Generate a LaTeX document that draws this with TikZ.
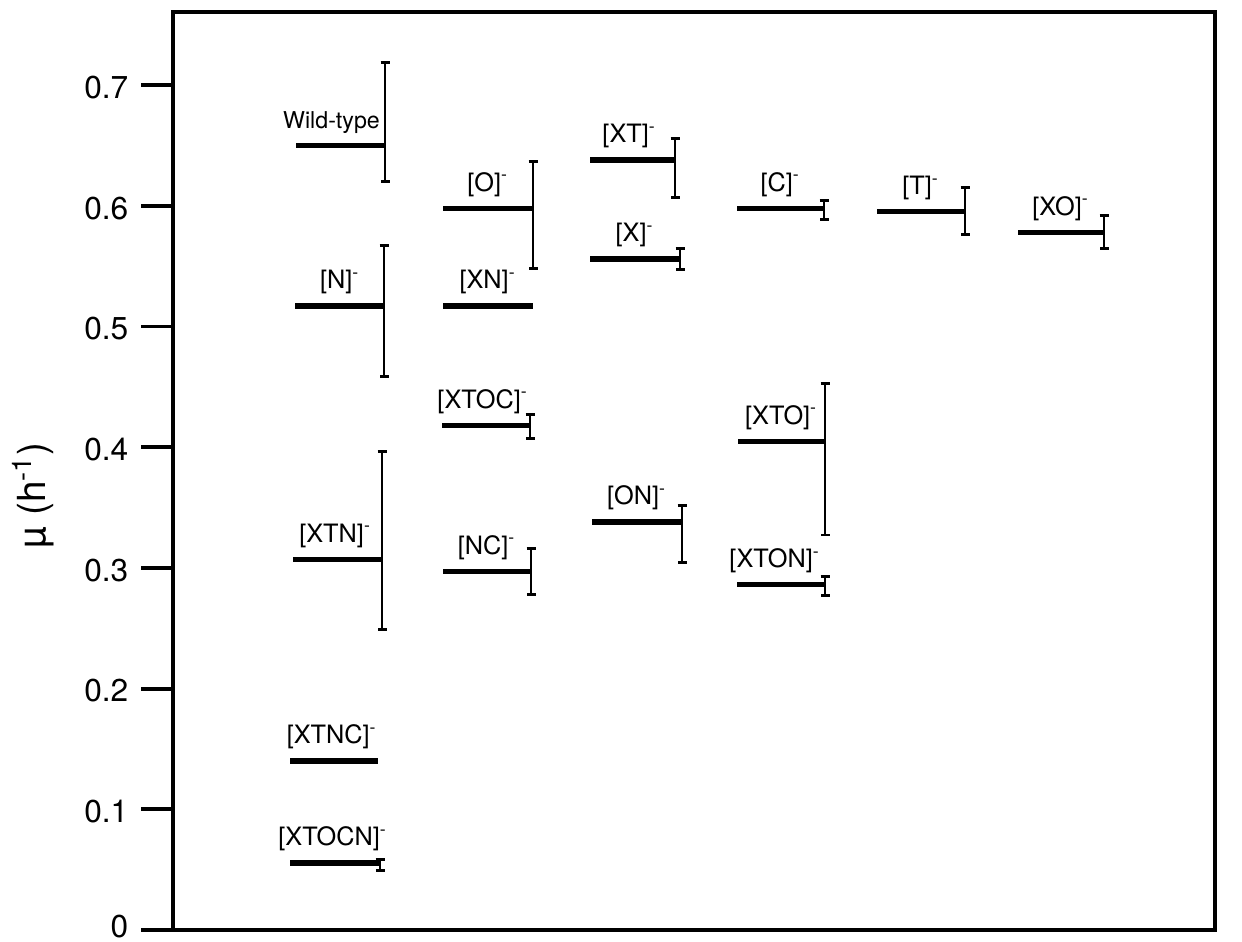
\documentclass[tikz,border=0pt]{standalone}
\usepackage{fontspec}
\setmainfont{TeX Gyre Heros}
\usepackage{tikz}
\usetikzlibrary{arrows.meta,positioning}

\begin{document}
\begin{tikzpicture}[x=0.1mm,y=120.7mm,line join=miter,
	frame/.style={line width=1.1pt},
	mean/.style={line width=1.5pt},
	errbar/.style={line width=0.85pt,{Bar[width=0.9mm,line width=0.85pt]}-{Bar[width=0.9mm,line width=0.85pt]}},
	tag/.style={font=\fontsize{7.2}{8}\selectfont,inner sep=0pt},
	ticklab/.style={font=\fontsize{9}{10}\selectfont,anchor=east,inner sep=0pt}]
	\useasboundingbox (0,-0.00994) rectangle (1242,0.7705);

	% axes and frame
	\coordinate (o0) at (173,0);
	\coordinate (o1) at (1215,0);
	\coordinate (o2) at (1215,0.7606);
	\coordinate (o3) at (173,0.7606);
	\draw[frame] (141,0) -- (o1) -- (o2) -- (o3) -- (o0);
	\foreach \v in {0.1,0.2,0.3,0.4,0.5,0.6,0.7}
		\draw[frame] (141,\v) -- (173,\v);
	\foreach \v/\dy in {0/0.0025,0.1/-0.002,0.2/-0.002,0.3/-0.002,0.4/-0.002,0.5/-0.002,0.6/-0.002,0.7/-0.002}
		\node[ticklab] (tick\v) at (129,\v+\dy) {\v};
	\node[rotate=90,font=\fontsize{11}{13}\selectfont] (ylab) at (33,0.360) {µ (h\textsuperscript{-1})};

	% mean values
	\foreach \nm/\xl/\xr/\v/\dx/\txt in {
		wt/296/385/0.650/-9/{\fontsize{6.6}{7}\selectfont Wild-type},
		n/295/385/0.517/0/[N]\textsuperscript{-},
		xtn/293/382/0.307/-2/[XTN]\textsuperscript{-},
		xtnc/290/378/0.140/-2/[XTNC]\textsuperscript{-},
		xtocn/290/380/0.0555/-2/[XTOCN]\textsuperscript{-},
		o/443/533/0.598/0/[O]\textsuperscript{-},
		xn/443/533/0.517/0/[XN]\textsuperscript{-},
		xtoc/442/530/0.418/-3/[XTOC]\textsuperscript{-},
		nc/443/531/0.297/0/[NC]\textsuperscript{-},
		xt/590/675/0.638/-3/[XT]\textsuperscript{-},
		x/590/680/0.556/0/[X]\textsuperscript{-},
		on/592/682/0.338/0/[ON]\textsuperscript{-},
		c/737/824/0.598/0/[C]\textsuperscript{-},
		xto/738/825/0.405/0/[XTO]\textsuperscript{-},
		xton/737/825/0.286/-6/[XTON]\textsuperscript{-},
		t/877/965/0.595/0/[T]\textsuperscript{-},
		xo/1018/1104/0.578/0/[XO]\textsuperscript{-}}
	{
		\coordinate (\nm-l) at (\xl,\v);
		\coordinate (\nm-r) at (\xr,\v);
		\coordinate (\nm) at ({(\xl+\xr)/2+\dx},\v);
		\draw[mean] (\nm-l) -- (\nm-r);
		\node[tag,above=1.1mm of \nm] (\nm-tag) {\txt};
	}

	% error bars
	\foreach \nm/\xr/\lo/\hi in {
		wt/385/0.619/0.720,
		n/384/0.457/0.568,
		xtn/382/0.248/0.398,
		xtocn/380/0.048/0.0597,
		o/533/0.547/0.638,
		xtoc/530/0.406/0.428,
		nc/531/0.277/0.317,
		xt/675/0.606/0.657,
		x/680/0.546/0.566,
		on/682/0.303/0.353,
		c/824/0.587/0.606,
		xto/825/0.326/0.454,
		xton/825/0.276/0.294,
		t/965/0.575/0.616,
		xo/1104/0.563/0.593}
	{
		\coordinate (\nm-lo) at (\xr,\lo);
		\coordinate (\nm-hi) at (\xr,\hi);
		\draw[errbar] (\nm-lo) -- (\nm-hi);
	}
\end{tikzpicture}
\end{document}
